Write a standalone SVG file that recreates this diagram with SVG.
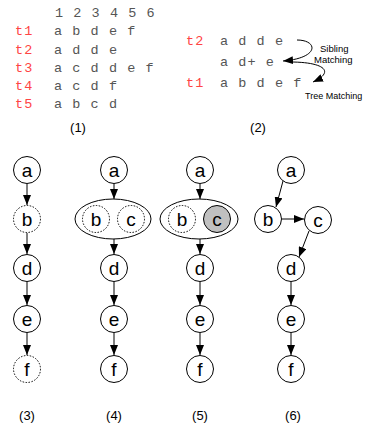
<svg xmlns="http://www.w3.org/2000/svg" width="365" height="425" viewBox="0 0 365 425">
<style>
.mono{font-family:"Liberation Mono","Courier New",monospace;font-size:13.5px;letter-spacing:1.05px;fill:#555}
.red{fill:#f44}
.lbl{font-family:"Liberation Sans",Arial,sans-serif;font-size:13px;fill:#000;text-anchor:middle}
.small{font-family:"Liberation Sans",Arial,sans-serif;font-size:9.5px;fill:#000}
.n circle{fill:#fff;stroke:#000;stroke-width:1}
.n.dot circle{stroke-dasharray:1.5 1.5}
.n text{font-family:"Liberation Sans",Arial,sans-serif;font-size:19px;text-anchor:middle;fill:#000}
.edge{stroke:#000;stroke-width:1;fill:none;marker-end:url(#ah)}
</style>
<defs>
<marker id="ah" markerWidth="10" markerHeight="8" refX="10" refY="4" orient="auto" markerUnits="userSpaceOnUse">
<path d="M0,0 L10,4 L0,8 z" fill="#000"/>
</marker>
</defs>
<rect width="365" height="425" fill="#fff"/>
<g id="table1">
<text class="mono" x="55" y="17">1 2 3 4 5 6</text>
<text class="mono red" x="15" y="35">t1</text>
<text class="mono" x="54" y="35">a b d e f</text>
<text class="mono red" x="15" y="54">t2</text>
<text class="mono" x="54" y="54">a d d e</text>
<text class="mono red" x="15" y="72">t3</text>
<text class="mono" x="54" y="72">a c d d e f</text>
<text class="mono red" x="15" y="90">t4</text>
<text class="mono" x="54" y="90">a c d f</text>
<text class="mono red" x="15" y="108">t5</text>
<text class="mono" x="54" y="108">a b c d</text>
<text class="lbl" x="78" y="132">(1)</text>
</g>
<g id="matching2">
<text class="mono red" x="186" y="45">t2</text>
<text class="mono" x="220" y="45">a d d e</text>
<text class="mono" x="220" y="66">a d+ e</text>
<text class="mono red" x="186" y="87">t1</text>
<text class="mono" x="220" y="87">a b d e f</text>
<text class="small" x="320" y="52">Sibling</text>
<text class="small" x="314" y="63">Matching</text>
<text class="small" x="305" y="99" style="font-size:9px">Tree Matching</text>
<text class="lbl" x="258" y="132">(2)</text>
</g>
<g id="connectors">
<path class="edge" d="M297,40 C318,40 320,58 283,61"/>
<path class="edge" d="M290,62 C325,62 335,72 313,82"/>
<line class="edge" x1="27" y1="184" x2="27" y2="205"/>
<line class="edge" x1="27" y1="233" x2="27" y2="254"/>
<line class="edge" x1="27" y1="282" x2="27" y2="305"/>
<line class="edge" x1="27" y1="333" x2="27" y2="355"/>
<line class="edge" x1="114" y1="184" x2="114" y2="199"/>
<line class="edge" x1="114" y1="239" x2="114" y2="254"/>
<line class="edge" x1="114" y1="282" x2="114" y2="305"/>
<line class="edge" x1="114" y1="333" x2="114" y2="355"/>
<line class="edge" x1="200" y1="184" x2="200" y2="199"/>
<line class="edge" x1="200" y1="239" x2="200" y2="254"/>
<line class="edge" x1="200" y1="282" x2="200" y2="305"/>
<line class="edge" x1="200" y1="333" x2="200" y2="355"/>
<line class="edge" x1="283" y1="181" x2="276" y2="207"/>
<line class="edge" x1="282" y1="219" x2="304" y2="219"/>
<line class="edge" x1="309" y1="231" x2="299" y2="257"/>
<line class="edge" x1="291" y1="282" x2="291" y2="305"/>
<line class="edge" x1="291" y1="333" x2="291" y2="355"/>
</g>
<g id="p3a" class="n"><circle cx="27" cy="170" r="13.5"/><text x="27" y="176.5">a</text></g>
<g id="p3b" class="n dot"><circle cx="27" cy="219" r="13.5"/><text x="27" y="225.5">b</text></g>
<g id="p3d" class="n"><circle cx="27" cy="268" r="13.5"/><text x="27" y="274.5">d</text></g>
<g id="p3e" class="n"><circle cx="27" cy="319" r="13.5"/><text x="27" y="325.5">e</text></g>
<g id="p3f" class="n dot"><circle cx="27" cy="369" r="13.5"/><text x="27" y="375.5">f</text></g>
<g id="p4a" class="n"><circle cx="114" cy="170" r="13.5"/><text x="114" y="176.5">a</text></g>
<g id="p4bc" class="n"><ellipse cx="113" cy="219" rx="38" ry="20" fill="#fff" stroke="#000"/></g>
<g id="p4b" class="n dot"><circle cx="96" cy="219" r="13.5"/><text x="96" y="225.5">b</text></g>
<g id="p4c" class="n dot"><circle cx="131" cy="219" r="13.5"/><text x="131" y="225.5">c</text></g>
<g id="p4d" class="n"><circle cx="114" cy="268" r="13.5"/><text x="114" y="274.5">d</text></g>
<g id="p4e" class="n"><circle cx="114" cy="319" r="13.5"/><text x="114" y="325.5">e</text></g>
<g id="p4f" class="n"><circle cx="114" cy="369" r="13.5"/><text x="114" y="375.5">f</text></g>
<g id="p5a" class="n"><circle cx="200" cy="170" r="13.5"/><text x="200" y="176.5">a</text></g>
<g id="p5bc" class="n"><ellipse cx="199" cy="219" rx="39" ry="20" fill="#fff" stroke="#000"/></g>
<g id="p5b" class="n dot"><circle cx="182" cy="219" r="13.5"/><text x="182" y="225.5">b</text></g>
<g id="p5c" class="n"><circle cx="217" cy="219" r="13.5" style="fill:#c0c0c0"/><text x="217" y="225.5">c</text></g>
<g id="p5d" class="n"><circle cx="200" cy="268" r="13.5"/><text x="200" y="274.5">d</text></g>
<g id="p5e" class="n"><circle cx="200" cy="319" r="13.5"/><text x="200" y="325.5">e</text></g>
<g id="p5f" class="n"><circle cx="200" cy="369" r="13.5"/><text x="200" y="375.5">f</text></g>
<g id="p6a" class="n"><circle cx="291" cy="170" r="13.5"/><text x="291" y="176.5">a</text></g>
<g id="p6b" class="n"><circle cx="268" cy="219" r="13.5"/><text x="268" y="225.5">b</text></g>
<g id="p6c" class="n"><circle cx="318" cy="220" r="13.5"/><text x="318" y="226.5">c</text></g>
<g id="p6d" class="n"><circle cx="291" cy="268" r="13.5"/><text x="291" y="274.5">d</text></g>
<g id="p6e" class="n"><circle cx="291" cy="319" r="13.5"/><text x="291" y="325.5">e</text></g>
<g id="p6f" class="n"><circle cx="291" cy="369" r="13.5"/><text x="291" y="375.5">f</text></g>
<g id="labels">
<text class="lbl" x="27" y="420">(3)</text>
<text class="lbl" x="114" y="420">(4)</text>
<text class="lbl" x="200" y="420">(5)</text>
<text class="lbl" x="293" y="420">(6)</text>
</g>
</svg>
